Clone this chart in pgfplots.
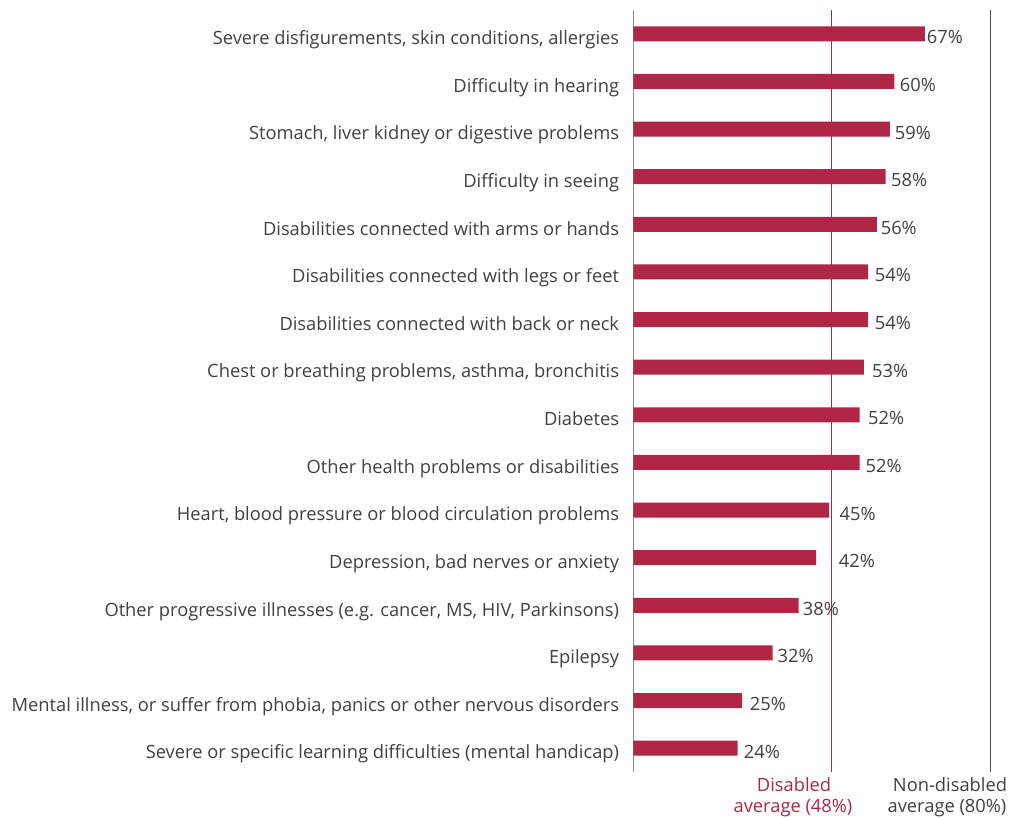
\documentclass[border=0pt]{standalone}
\usepackage{fontspec}
\setmainfont{Open Sans}
\usepackage{pgfplots}
\usepackage{pgfplotstable}
\pgfplotsset{compat=1.18}
\definecolor{crim}{HTML}{AF2647}
\definecolor{txt}{HTML}{404040}
\definecolor{axgray}{HTML}{8C8C8C}
\definecolor{ndgray}{HTML}{505050}
\pgfplotstableread{
y x off
0 24 6.0
1 25 7.7
2 32 4.9
3 38 4.1
4 42 22.7
5 45 10.4
6 52 5.9
7 52 8.5
8 53 8.1
9 54 6.5
10 54 6.5
11 56 3.7
12 58 5.4
13 59 4.7
14 60 5.4
15 67 1.9
}\datatable
\begin{document}
\fontsize{18.3pt}{22pt}\selectfont
\color{txt}
\begin{tikzpicture}
\path[use as bounding box] (0,0) rectangle (1022pt,818pt);
\begin{axis}[
  at={(633.3pt,46pt)}, anchor=south west,
  scale only axis, width=391.5pt, height=762pt,
  xmin=0, xmax=90, ymin=-0.5, ymax=15.5,
  /pgf/number format/assume math mode=true,
  axis lines*=left,
  x axis line style={draw=none},
  y axis line style={draw=axgray, line width=0.8pt, -},
  xtick=\empty,
  ytick={0,...,15},
  major tick length=0pt,
  yticklabels={
    {Severe or specific learning difficulties (mental handicap)},
    {Mental illness, or suffer from phobia, panics or other nervous disorders},
    {Epilepsy},
    {Other progressive illnesses (e.g. cancer, MS, HIV, Parkinsons)},
    {Depression, bad nerves or anxiety},
    {Heart, blood pressure or blood circulation problems},
    {Other health problems or disabilities},
    {Diabetes},
    {Chest or breathing problems, asthma, bronchitis},
    {Disabilities connected with back or neck},
    {Disabilities connected with legs or feet},
    {Disabilities connected with arms or hands},
    {Difficulty in seeing},
    {Stomach, liver kidney or digestive problems},
    {Difficulty in hearing},
    {Severe disfigurements, skin conditions, allergies}},
  yticklabel style={anchor=base east, inner sep=0pt, xshift=-14pt, yshift=-10.8pt, text=txt},
  clip=false,
]
\addplot[xbar, bar width=15pt, bar shift=0pt, fill=crim, draw=none,
  point meta=x,
  visualization depends on={\thisrow{off} \as \off},
  nodes near coords={\pgfmathprintnumber[assume math mode=true]{\pgfplotspointmeta}\%},
  every node near coord/.append style={anchor=base west, inner sep=0pt, xshift=\off pt, yshift=-10pt, text=txt}
] table[x=x, y=y] {\datatable};
\addplot[crim, line width=0.8pt, no marks] coordinates {(45.6,-0.5) (45.6,15.5)};
\addplot[ndgray, line width=0.8pt, no marks] coordinates {(82.2,-0.5) (82.2,15.5)};
\end{axis}
\node[anchor=base, text=crim, inner sep=0pt] at (794pt,26.3pt) {Disabled};
\node[anchor=base, text=crim, inner sep=0pt] at (793pt,5.3pt) {average (48\%)};
\node[anchor=base, text=txt, inner sep=0pt] at (950pt,26.3pt) {Non-disabled};
\node[anchor=base, text=txt, inner sep=0pt] at (947pt,5.3pt) {average (80\%)};
\end{tikzpicture}
\end{document}
